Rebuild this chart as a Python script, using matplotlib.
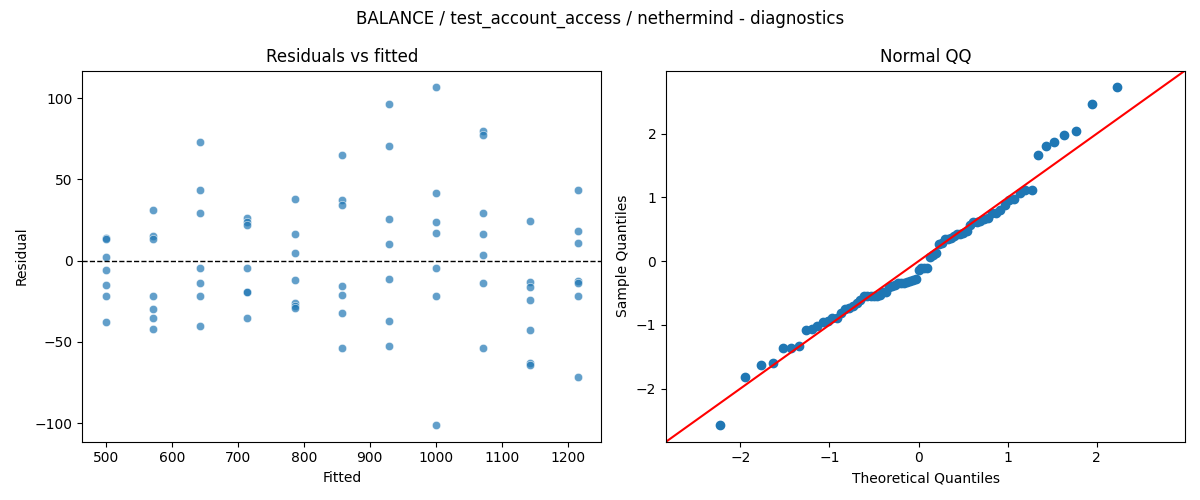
import numpy as np
import matplotlib
matplotlib.use('Agg')
import matplotlib.pyplot as plt
import seaborn as sns
from statistics import NormalDist

title = 'BALANCE / test_account_access / nethermind - diagnostics'

fitted_levels = [500, 571.5, 643, 714.5, 786, 857.5, 929, 1000.5, 1072, 1143.5, 1215]
resid_groups = [
    [14.0, 13.5, 2.5, -5.5, -15.0, -21.5, -38.0],
    [31.0, 15.0, 13.0, -22.0, -30.0, -35.0, -42.0],
    [73.0, 43.5, 29.5, -4.5, -13.5, -21.5, -40.0],
    [26.5, 24.0, 22.0, -4.5, -19.0, -19.5, -35.0],
    [38.0, 16.5, 5.0, -12.0, -26.0, -28.0, -29.0],
    [65.0, 37.0, 34.0, -15.5, -21.0, -32.5, -54.0],
    [96.5, 70.5, 25.5, 10.5, -11.0, -37.0, -52.5],
    [106.5, 41.5, 24.0, 17.0, -4.5, -21.5, -101.0],
    [80.0, 77.5, 29.5, 16.5, 3.5, -13.5, -54.0],
    [24.5, -13.0, -16.5, -24.5, -42.5, -63.0, -64.0],
    [43.5, 18.5, 11.0, -12.5, -14.0, -22.0, -71.5],
]

fitted = np.concatenate([[f] * len(g) for f, g in zip(fitted_levels, resid_groups)])
resid = np.concatenate(resid_groups)

fig, (ax1, ax2) = plt.subplots(1, 2, figsize=(12, 5), dpi=100)
fig.suptitle(title)

sns.scatterplot(x=fitted, y=resid, ax=ax1, alpha=0.7)
ax1.axhline(0, color='black', linestyle='--', linewidth=1)
ax1.set_xlabel('Fitted')
ax1.set_ylabel('Residual')
ax1.set_title('Residuals vs fitted')

# normal QQ of standardized residuals
z = np.sort((resid - resid.mean()) / resid.std())
n = len(z)
theo = np.array([NormalDist().inv_cdf(i / (n + 1)) for i in range(1, n + 1)])
ax2.plot(theo, z, 'o', color='C0', markersize=6)
xl = ax2.get_xlim()
yl = ax2.get_ylim()
lo = min(xl[0], yl[0])
hi = max(xl[1], yl[1])
ax2.plot([lo, hi], [lo, hi], 'r-')
ax2.set_xlim(lo, hi)
ax2.set_ylim(lo, hi)
ax2.set_xlabel('Theoretical Quantiles')
ax2.set_ylabel('Sample Quantiles')
ax2.set_title('Normal QQ')

plt.tight_layout()
plt.savefig('out.png')
